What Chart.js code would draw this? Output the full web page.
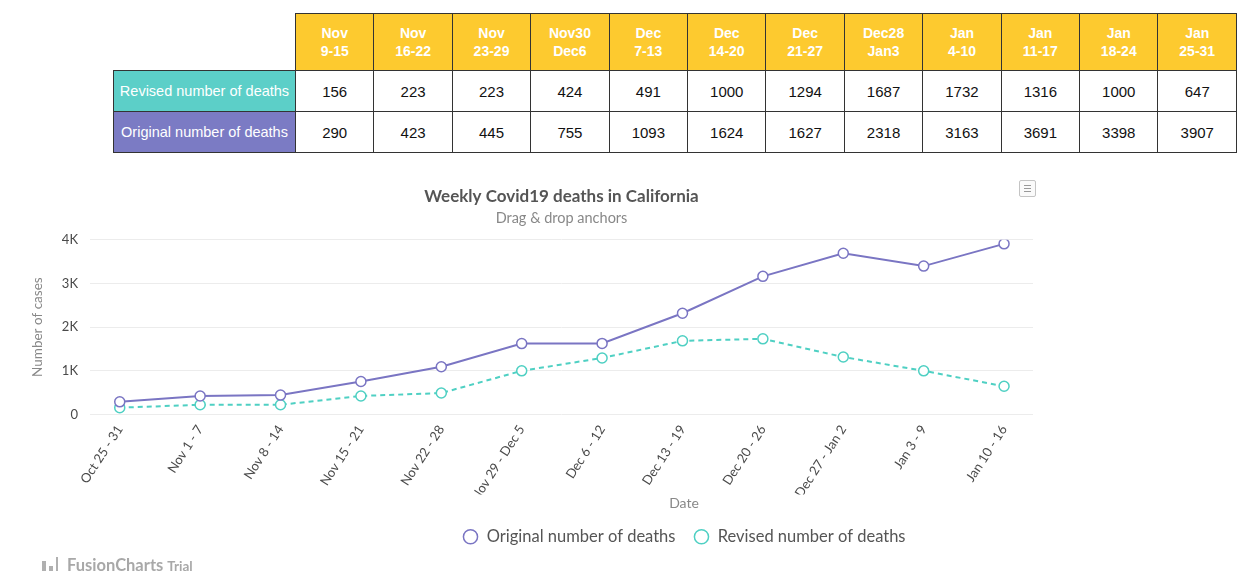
<!DOCTYPE html>
<html lang="en">
<head>
    <meta charset="UTF-8">
    <title>Weekly Covid19 deaths in California</title>
    <style>
        body {
            margin: 0;
            width: 1254px;
            height: 574px;
            overflow: hidden;
            background: #fff;
            position: relative;
            font-family: Lato, sans-serif;
        }
        #weeks {
            position: absolute;
            left: 113px;
            top: 13px;
            width: 1124px;
            border-collapse: collapse;
            table-layout: fixed;
            font-family: "Liberation Sans", Arial, sans-serif;
        }
        #weeks th, #weeks td {
            border: 1px solid #333;
            text-align: center;
            padding: 0;
        }
        #weeks th {
            background: #fdca2f;
            color: #fff;
            font-size: 14px;
            font-weight: bold;
            line-height: 18px;
        }
        #weeks th.blank {
            background: #fff;
            border-top: none;
            border-left: none;
        }
        #weeks tr.head { height: 57px; }
        #weeks tr.row { height: 41px; }
        #weeks td {
            font-size: 15px;
            color: #111;
        }
        #weeks td.name {
            color: #fff;
            font-size: 14.5px;
        }
        #weeks td.revised { background: #5ccfc8; }
        #weeks td.original { background: #7b7bc4; }
        #box {
            position: absolute;
            left: 0;
            top: 160px;
            width: 1254px;
            height: 414px;
        }
        #menu {
            position: absolute;
            left: 1019px;
            top: 180px;
            width: 15px;
            height: 15px;
            border: 1px solid #c4c4c4;
            border-radius: 2px;
            background: #fafafa;
        }
        #menu span {
            position: absolute;
            left: 4px;
            width: 7px;
            height: 1px;
            background: #999;
        }
        #trial {
            position: absolute;
            left: 42px;
            top: 555px;
            color: #a8a8a8;
            font-size: 16.5px;
            font-weight: bold;
        }
        #trial small { font-size: 13.5px; margin-left: 4px; }
        #trial i {
            display: inline-block;
            width: 4px;
            background: #b0b0b0;
            margin-right: 3px;
        }
    </style>
</head>
<body>
    <table id="weeks"></table>
    <div id="box"><canvas id="chartDeaths"></canvas></div>
    <div id="menu"><span style="top:4px"></span><span style="top:7px"></span><span style="top:10px"></span></div>
    <div id="trial"><i style="height:10px"></i><i style="height:5px"></i><i style="height:14px;width:2px;margin-right:9px"></i>FusionCharts<small>Trial</small></div>

    <script src="https://cdn.jsdelivr.net/npm/chart.js"></script>
    <script>
        // table header weeks
        const tableWeeks = [
            ['Nov', '9-15'], ['Nov', '16-22'], ['Nov', '23-29'], ['Nov30', 'Dec6'],
            ['Dec', '7-13'], ['Dec', '14-20'], ['Dec', '21-27'], ['Dec28', 'Jan3'],
            ['Jan', '4-10'], ['Jan', '11-17'], ['Jan', '18-24'], ['Jan', '25-31']
        ];
        // chart x categories
        const weeks = ['Oct 25 - 31', 'Nov 1 - 7', 'Nov 8 - 14', 'Nov 15 - 21', 'Nov 22 - 28',
            'Nov 29 - Dec 5', 'Dec 6 - 12', 'Dec 13 - 19', 'Dec 20 - 26', 'Dec 27 - Jan 2',
            'Jan 3 - 9', 'Jan 10 - 16'];
        const original = [290, 423, 445, 755, 1093, 1624, 1627, 2318, 3163, 3691, 3398, 3907];
        const revised = [156, 223, 223, 424, 491, 1000, 1294, 1687, 1732, 1316, 1000, 647];
        const yTicks = [0, 1000, 2000, 3000, 4000];
        const yTickLabels = ['0', '1K', '2K', '3K', '4K'];

        // build the table
        let html = '<colgroup><col style="width:182px">';
        tableWeeks.forEach(() => html += '<col>');
        html += '</colgroup><tr class="head"><th class="blank"></th>';
        tableWeeks.forEach(w => html += '<th>' + w[0] + '<br>' + w[1] + '</th>');
        html += '</tr><tr class="row"><td class="name revised">Revised number of deaths</td>';
        revised.forEach(v => html += '<td>' + v + '</td>');
        html += '</tr><tr class="row"><td class="name original">Original number of deaths</td>';
        original.forEach(v => html += '<td>' + v + '</td>');
        html += '</tr>';
        document.getElementById('weeks').innerHTML = html;

        const purple = '#7a75c3';
        const teal = '#4fd0c3';

        // moves the legend box so it is centred where the picture has it
        const moveLegend = {
            id: 'moveLegend',
            afterLayout(chart, args, opts) {
                const lg = chart.legend;
                const dx = opts.centerX - (lg.left + lg.right) / 2;
                lg.left += dx;
                lg.right += dx;
            }
        };

        new Chart(document.getElementById('chartDeaths'), {
            type: 'line',
            data: {
                datasets: [{
                    label: 'Original number of deaths',
                    data: original.map((v, i) => ({ x: i, y: v })),
                    borderColor: purple,
                    backgroundColor: '#fff',
                    borderWidth: 2,
                    pointRadius: 5,
                    pointBorderWidth: 1.5,
                    pointBackgroundColor: '#fff',
                    pointBorderColor: purple,
                    tension: 0
                }, {
                    label: 'Revised number of deaths',
                    data: revised.map((v, i) => ({ x: i, y: v })),
                    borderColor: teal,
                    backgroundColor: '#fff',
                    borderWidth: 2,
                    borderDash: [5, 4],
                    pointRadius: 5,
                    pointBorderWidth: 1.5,
                    pointBackgroundColor: '#fff',
                    pointBorderColor: teal,
                    tension: 0
                }]
            },
            plugins: [moveLegend],
            options: {
                responsive: true,
                maintainAspectRatio: false,
                animation: false,
                layout: { padding: { left: 28, right: 221, top: 26, bottom: 19 } },
                scales: {
                    x: {
                        type: 'linear',
                        min: -0.37,
                        max: 11.36,
                        afterBuildTicks: scale => { scale.ticks = weeks.map((w, i) => ({ value: i })); },
                        afterFit: scale => { scale.height = 80; },
                        grid: { display: false },
                        border: { display: false },
                        ticks: {
                            autoSkip: false,
                            minRotation: 57,
                            maxRotation: 57,
                            padding: 0,
                            color: '#4a4a4a',
                            font: { family: 'Lato', size: 13 },
                            callback: value => weeks[value]
                        }
                    },
                    y: {
                        min: 0,
                        max: 4000,
                        afterBuildTicks: scale => { scale.ticks = yTicks.map(v => ({ value: v })); },
                        afterFit: scale => { scale.width = 62; },
                        grid: { color: '#ececec', drawTicks: false },
                        border: { display: false },
                        ticks: {
                            padding: 12,
                            color: '#4a4a4a',
                            font: { family: 'Lato', size: 13 },
                            callback: (value, index) => yTickLabels[index]
                        },
                        title: {
                            display: true,
                            text: 'Number of cases',
                            color: '#888',
                            font: { family: 'Lato', size: 13.5 },
                            padding: { top: 2, bottom: 0 }
                        }
                    }
                },
                plugins: {
                    title: {
                        display: true,
                        fullSize: false,
                        text: 'Weekly Covid19 deaths in California',
                        color: '#555',
                        font: { family: 'Lato', size: 17, weight: 'bold' },
                        padding: { top: 0, bottom: 3 }
                    },
                    subtitle: {
                        display: true,
                        fullSize: false,
                        text: 'Drag & drop anchors',
                        color: '#888',
                        font: { family: 'Lato', size: 14.5 },
                        padding: { top: 0, bottom: 13 }
                    },
                    legend: {
                        position: 'bottom',
                        title: {
                            display: true,
                            text: 'Date',
                            color: '#888',
                            font: { family: 'Lato', size: 14, lineHeight: 1 },
                            padding: { top: 2, bottom: 0 }
                        },
                        labels: {
                            usePointStyle: true,
                            pointStyle: 'circle',
                            boxWidth: 16,
                            boxHeight: 10,
                            padding: 18,
                            color: '#555',
                            font: { family: 'Lato', size: 16.5 },
                            generateLabels(chart) {
                                return Chart.defaults.plugins.legend.labels.generateLabels(chart).map(item => {
                                    item.lineDash = [];
                                    item.lineWidth = 1.5;
                                    item.fillStyle = '#fff';
                                    return item;
                                });
                            }
                        }
                    },
                    moveLegend: { centerX: 684 },
                    tooltip: { enabled: false }
                }
            }
        });
    </script>
</body>
</html>
